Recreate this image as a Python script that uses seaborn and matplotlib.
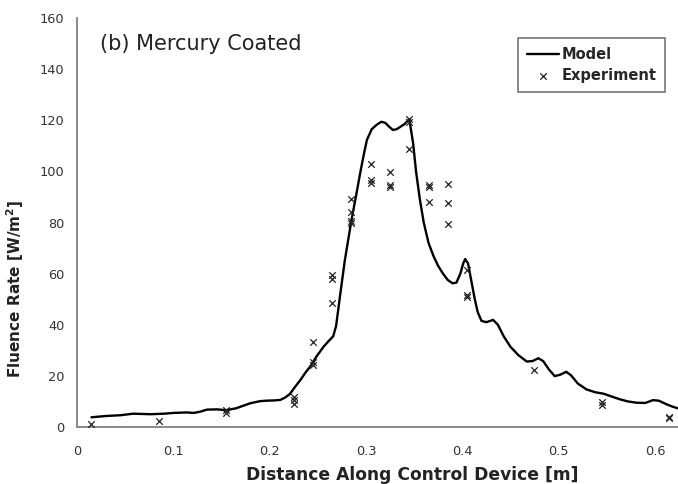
import matplotlib
matplotlib.use("Agg")
import matplotlib.pyplot as plt
import seaborn as sns
import pandas as pd

# ---- data ----
model_x = [0.015, 0.03, 0.045, 0.058, 0.068, 0.076, 0.09, 0.1, 0.114, 0.121, 0.128, 0.135,
           0.145, 0.155, 0.165, 0.18, 0.19, 0.197, 0.205, 0.211, 0.216, 0.221, 0.226, 0.232,
           0.237, 0.242, 0.249, 0.256, 0.261, 0.266, 0.269, 0.273, 0.278, 0.285, 0.29, 0.294,
           0.298, 0.301, 0.306, 0.311, 0.316, 0.32, 0.324, 0.328, 0.332, 0.336, 0.34, 0.345,
           0.349, 0.352, 0.356, 0.36, 0.365, 0.37, 0.375, 0.38, 0.385, 0.39, 0.394, 0.398,
           0.401, 0.403, 0.406, 0.409, 0.413, 0.416, 0.42, 0.425, 0.432, 0.437, 0.443, 0.45,
           0.458, 0.467, 0.473, 0.479, 0.484, 0.49, 0.496, 0.502, 0.508, 0.513, 0.52, 0.529,
           0.538, 0.547, 0.556, 0.564, 0.572, 0.581, 0.59, 0.598, 0.604, 0.612, 0.618, 0.624]
model_y = [3.8, 4.3, 4.6, 5.2, 5.1, 5.0, 5.2, 5.5, 5.7, 5.5, 6.0, 6.8,
           6.9, 6.6, 7.3, 9.3, 10.1, 10.3, 10.4, 10.6, 11.5, 12.9, 15.5, 18.4,
           21.2, 23.6, 27.8, 31.4, 33.5, 35.5, 39.5, 51, 65, 81, 91, 99.3,
           107, 112.3, 116.5, 118.2, 119.4, 119, 117.5, 116.2, 116.5, 117.5, 118.5, 120.4,
           111, 100, 89, 80, 72, 67, 63, 60, 57.5, 56.2, 56.5, 60,
           64, 65.7, 64, 58, 50, 45, 41.5, 41, 41.9, 40, 35.5, 31.4,
           28.2, 25.6, 25.8, 26.9, 25.8, 22.5, 19.9, 20.5, 21.6, 20.2, 17.0, 14.7,
           13.6, 13.0, 11.8, 10.8, 10.0, 9.5, 9.4, 10.5, 10.3, 8.9, 8.0, 7.3]

exp_x = [0.015, 0.085, 0.155, 0.155, 0.225, 0.225, 0.225, 0.245, 0.245, 0.245,
         0.265, 0.265, 0.265, 0.285, 0.285, 0.285, 0.285, 0.305, 0.305, 0.305,
         0.325, 0.325, 0.325, 0.345, 0.345, 0.345, 0.365, 0.365, 0.365,
         0.385, 0.385, 0.385, 0.405, 0.405, 0.405, 0.475, 0.545, 0.545, 0.615, 0.615]
exp_y = [1.2, 2.3, 5.3, 6.6, 9.0, 10.6, 11.9, 24.3, 25.6, 33.4,
         48.5, 58.0, 59.5, 79.8, 80.7, 84.2, 89.2, 95.6, 96.6, 102.8,
         94.0, 94.5, 99.9, 108.6, 119.4, 120.5, 93.8, 94.5, 88.2,
         79.3, 87.5, 95.0, 50.7, 51.6, 61.4, 22.3, 8.5, 9.8, 3.5, 4.0]

x_ticks = [0, 0.1, 0.2, 0.3, 0.4, 0.5, 0.6]
x_tick_labels = ["0", "0.1", "0.2", "0.3", "0.4", "0.5", "0.6"]
y_ticks = [0, 20, 40, 60, 80, 100, 120, 140, 160]

model_df = pd.DataFrame({"x": model_x, "y": model_y})
exp_df = pd.DataFrame({"x": exp_x, "y": exp_y})

# ---- plot ----
sns.set_style("white")
plt.rcParams["font.family"] = ["DejaVu Sans"]

fig = plt.figure(figsize=(6.78, 4.84), dpi=100)
ax = fig.add_axes([77 / 678, 1 - 427 / 484, 1 - 77 / 678, (427 - 18) / 484])

sns.lineplot(data=model_df, x="x", y="y", ax=ax, color="black", linewidth=1.7,
             sort=False, estimator=None, label="Model")
sns.scatterplot(data=exp_df, x="x", y="y", ax=ax, marker="x", color="#222222",
                s=22, linewidth=0.9, label="Experiment", zorder=3)

ax.set_xlim(0, 0.624)
ax.set_ylim(0, 160)
ax.set_xticks(x_ticks)
ax.set_xticklabels(x_tick_labels)
ax.set_yticks(y_ticks)

for side in ["top", "right"]:
    ax.spines[side].set_visible(False)
for side in ["left", "bottom"]:
    ax.spines[side].set_color("#808080")
    ax.spines[side].set_linewidth(1.3)

ax.tick_params(axis="both", which="major", direction="out", length=4, width=1.0,
               color="#808080", labelsize=9.3, labelcolor="#333333", pad=5)
ax.tick_params(axis="x", pad=9)

ax.set_xlabel("Distance Along Control Device [m]", fontsize=12.3, fontweight="bold",
              color="#222222")
ax.xaxis.set_label_coords((412 - 77) / 601, (427 - 466) / 409)
ax.set_ylabel("Fluence Rate [W/m$^\\mathbf{2}$]", fontsize=11, fontweight="bold",
              color="#222222")
ax.yaxis.set_label_coords((26 - 77) / 601, (427 - 289) / 409)

ax.text(0.024, 150, "(b) Mercury Coated", fontsize=15, color="#222222",
        ha="left", va="center")

leg = ax.legend(loc="upper right", bbox_to_anchor=(665 / 678, 1 - 38 / 484),
                bbox_transform=fig.transFigure, borderaxespad=0,
                fancybox=False, frameon=True, edgecolor="#555555",
                prop={"weight": "bold", "size": 10.5}, handlelength=2.2,
                handletextpad=0.15, borderpad=0.6, labelspacing=0.45)
leg.get_frame().set_linewidth(1.2)

fig.savefig("out.png", dpi=100)
